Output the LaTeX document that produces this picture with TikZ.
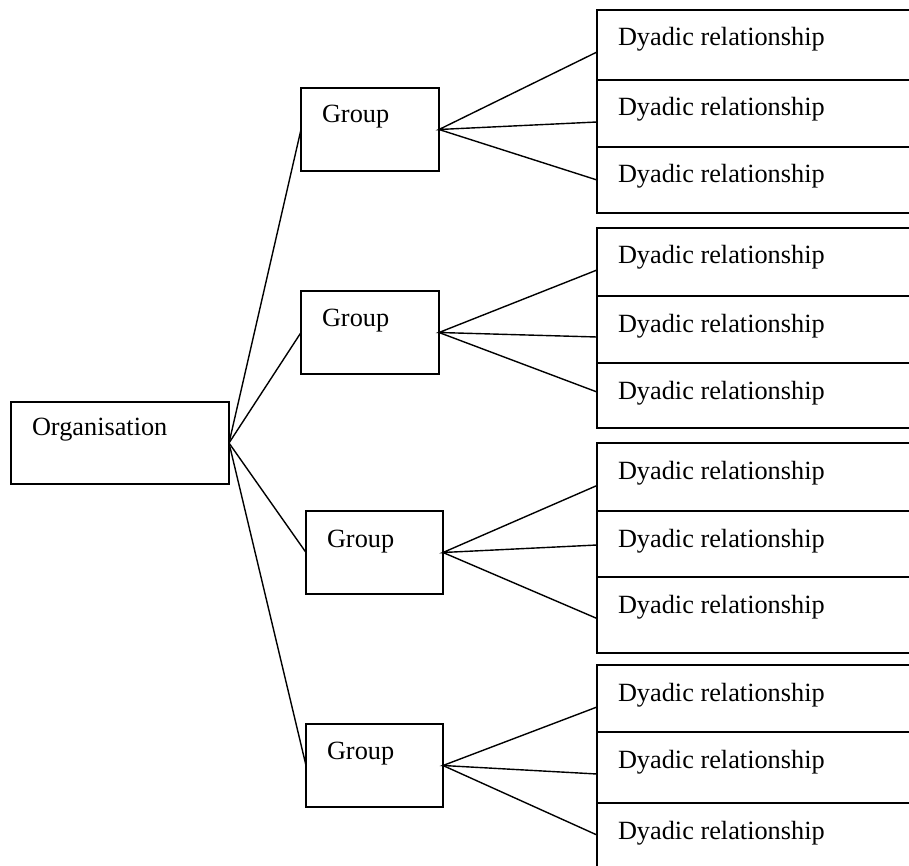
\documentclass[tikz,border=0pt]{standalone}
\usepackage{fontspec}
\setmainfont{Liberation Serif}
\begin{document}
\begin{tikzpicture}[x=1pt,y=-1pt,
  every node/.style={inner sep=0pt,outer sep=0pt},
  box/.style={draw,line width=1.4pt,rectangle,anchor=north west},
  rowbox/.style={box,minimum width=500pt},
  lbl/.style={anchor=base west,font=\fontsize{26.3}{30}\selectfont},
  link/.style={line width=1.4pt}]
\useasboundingbox (0,0) rectangle (909,866);
\clip (0,0) rectangle (909,866);

% organisation
\node[box,minimum width=218pt,minimum height=82pt] (org) at (11,402) {};
\node[lbl] (torg) at (32,435) {Organisation};

% groups
\node[box,minimum width=138pt,minimum height=83pt] (g1) at (301,88) {};
\node[box,minimum width=138pt,minimum height=83pt] (g2) at (301,291) {};
\node[box,minimum width=137pt,minimum height=83pt] (g3) at (306,511) {};
\node[box,minimum width=137pt,minimum height=83pt] (g4) at (306,724) {};
\node[lbl] (tg1) at (322,123) {Group};
\node[lbl] (tg2) at (322,326) {Group};
\node[lbl] (tg3) at (327,547) {Group};
\node[lbl] (tg4) at (327,759) {Group};

% dyadic relationship rows
\foreach \n/\top/\h in {11/10/70,12/80/67,13/147/66,
                        21/228/68,22/296/67,23/363/65,
                        31/443/68,32/511/66,33/577/76,
                        41/665/67,42/732/71,43/803/80}{
  \node[rowbox,minimum height=\h pt] (r\n) at (597,\top) {};
  \node[lbl] (t\n) at (618,\top+36) {Dyadic relationship};
}

% organisation to groups
\foreach \g in {g1,g2,g3,g4}
  \draw[link] (org.east) -- (\g.west);

% groups to their relationships
\draw[link] ([yshift=-7pt]r11.west) -- (g1.east) -- ([yshift=-8.5pt]r12.west);
\draw[link] (g1.east) -- (r13.west);
\draw[link] ([yshift=-8pt]r21.west) -- (g2.east) -- ([yshift=-7.5pt]r22.west);
\draw[link] (g2.east) -- ([yshift=3.5pt]r23.west);
\draw[link] ([yshift=-8.5pt]r31.west) -- (g3.east) -- ([yshift=-1pt]r32.west);
\draw[link] (g3.east) -- ([yshift=-3.5pt]r33.west);
\draw[link] ([yshift=-8.5pt]r41.west) -- (g4.east) -- ([yshift=-6.5pt]r42.west);
\draw[link] (g4.east) -- ([yshift=8pt]r43.west);
\end{tikzpicture}
\end{document}
